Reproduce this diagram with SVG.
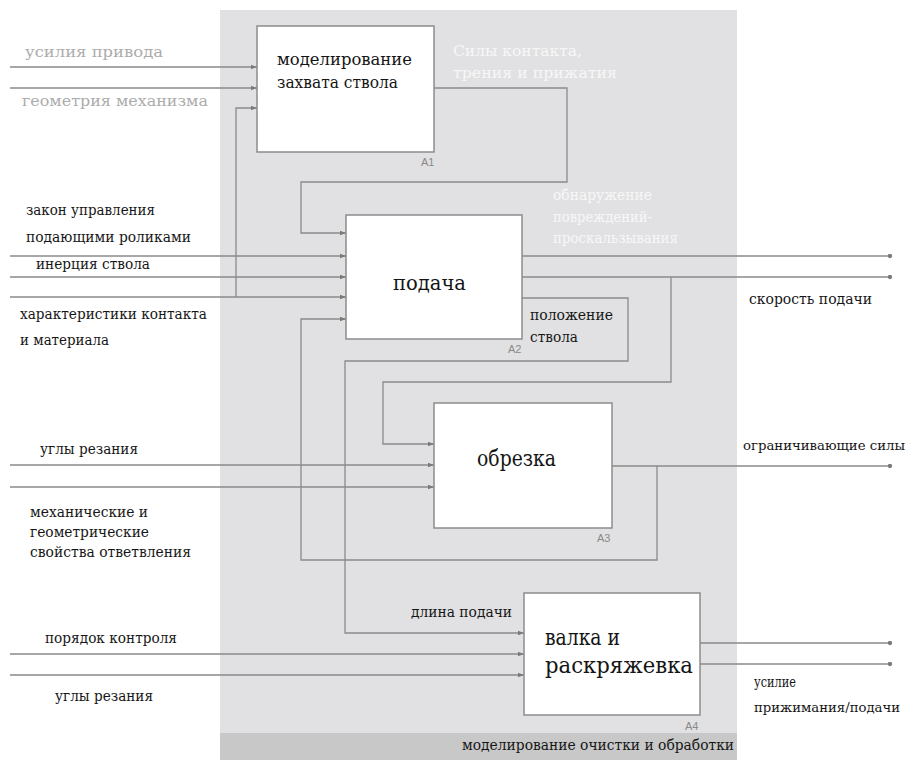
<svg xmlns="http://www.w3.org/2000/svg" width="915" height="760" viewBox="0 0 915 760">
<style>
.ln{fill:none;stroke:#8a8a8a;stroke-width:1.3}
.box{fill:#fff;stroke:#8c8c8c;stroke-width:1.5}
.t{font-family:"DejaVu Serif","Liberation Serif",serif;font-size:15px;fill:#161616}
.tg{font-family:"DejaVu Serif","Liberation Serif",serif;font-size:15px;fill:#acacac}
.tw{font-family:"DejaVu Serif","Liberation Serif",serif;font-size:15px;fill:#f7f7f7}
.big{font-family:"DejaVu Serif","Liberation Serif",serif;fill:#151515}
.id{font-family:"Liberation Sans",Arial,sans-serif;font-size:11px;fill:#8a8a8a}
</style>
<defs>
<marker id="arr" viewBox="0 0 6 6" refX="6" refY="3" markerWidth="6" markerHeight="6" markerUnits="userSpaceOnUse" orient="auto">
<path d="M0,0.8 L6,3 L0,5.2 Z" fill="#7a7a7a"/>
</marker>
<marker id="dot" viewBox="0 0 6 6" refX="3" refY="3" markerWidth="5" markerHeight="5" markerUnits="userSpaceOnUse">
<circle cx="3" cy="3" r="2.6" fill="#7a7a7a"/>
</marker>
</defs>
<rect x="0" y="0" width="915" height="760" fill="#ffffff"/>
<rect x="220" y="10" width="517" height="750" fill="#e1e1e3"/>
<rect x="220" y="733" width="517" height="27" fill="#c8c8c8"/>

<g id="connectors">
<path class="ln" d="M10,67 H257" marker-end="url(#arr)"/>
<path class="ln" d="M10,88 H257" marker-end="url(#arr)"/>
<path class="ln" d="M236,297 V108 H257" marker-end="url(#arr)"/>
<path class="ln" d="M434,88 H567 V182 H301 V233 H346" marker-end="url(#arr)"/>
<path class="ln" d="M10,256 H346" marker-end="url(#arr)"/>
<path class="ln" d="M10,277 H346" marker-end="url(#arr)"/>
<path class="ln" d="M10,297 H346" marker-end="url(#arr)"/>
<path class="ln" d="M657,466 V560 H301 V319 H346" marker-end="url(#arr)"/>
<path class="ln" d="M522,256 H890" marker-end="url(#dot)"/>
<path class="ln" d="M522,277 H890" marker-end="url(#dot)"/>
<path class="ln" d="M671,277 V382 H383 V444 H434" marker-end="url(#arr)"/>
<path class="ln" d="M522,298 H628 V361 H345 V633 H524" marker-end="url(#arr)"/>
<path class="ln" d="M10,465 H434" marker-end="url(#arr)"/>
<path class="ln" d="M10,487 H434" marker-end="url(#arr)"/>
<path class="ln" d="M612,466 H890" marker-end="url(#dot)"/>
<path class="ln" d="M10,654 H524" marker-end="url(#arr)"/>
<path class="ln" d="M10,675 H524" marker-end="url(#arr)"/>
<path class="ln" d="M700,643 H890" marker-end="url(#dot)"/>
<path class="ln" d="M700,664 H890" marker-end="url(#dot)"/>
</g>

<g id="A1">
<rect class="box" x="257" y="26" width="177" height="126"/>
<text class="big" font-size="17" x="277" y="65" textLength="135" lengthAdjust="spacingAndGlyphs">моделирование</text>
<text class="big" font-size="17" x="277" y="88" textLength="121" lengthAdjust="spacingAndGlyphs">захвата ствола</text>
<text class="id" x="421" y="166">A1</text>
</g>
<g id="A2">
<rect class="box" x="346" y="215" width="176" height="124"/>
<text class="big" font-size="21" x="393" y="290" textLength="73" lengthAdjust="spacingAndGlyphs">подача</text>
<text class="id" x="508" y="353">A2</text>
</g>
<g id="A3">
<rect class="box" x="434" y="403" width="178" height="125"/>
<text class="big" font-size="22" x="477" y="466" textLength="79" lengthAdjust="spacingAndGlyphs">обрезка</text>
<text class="id" x="597" y="542">A3</text>
</g>
<g id="A4">
<rect class="box" x="524" y="593" width="176" height="122"/>
<text class="big" font-size="23" x="545" y="645" textLength="75" lengthAdjust="spacingAndGlyphs">валка и</text>
<text class="big" font-size="23" x="545" y="673" textLength="148" lengthAdjust="spacingAndGlyphs">раскряжевка</text>
<text class="id" x="685" y="730">A4</text>
</g>

<g id="labels">
<text class="tg" x="25" y="57" textLength="138" lengthAdjust="spacingAndGlyphs">усилия привода</text>
<text class="tg" x="22" y="106" textLength="186" lengthAdjust="spacingAndGlyphs">геометрия механизма</text>
<text class="tw" x="453" y="56" textLength="129" lengthAdjust="spacingAndGlyphs">Силы контакта,</text>
<text class="tw" x="453" y="78" textLength="164" lengthAdjust="spacingAndGlyphs">трения и прижатия</text>
<text class="tw" style="font-size:14px" x="553" y="200" textLength="99" lengthAdjust="spacingAndGlyphs">обнаружение</text>
<text class="tw" style="font-size:14px" x="553" y="222" textLength="99" lengthAdjust="spacingAndGlyphs">повреждений-</text>
<text class="tw" style="font-size:14px" x="553" y="243" textLength="125" lengthAdjust="spacingAndGlyphs">проскальзывания</text>
<text class="t" x="26" y="215" textLength="129" lengthAdjust="spacingAndGlyphs">закон управления</text>
<text class="t" x="26" y="242" textLength="165" lengthAdjust="spacingAndGlyphs">подающими роликами</text>
<text class="t" x="36" y="269" textLength="114" lengthAdjust="spacingAndGlyphs">инерция ствола</text>
<text class="t" x="20" y="319" textLength="187" lengthAdjust="spacingAndGlyphs">характеристики контакта</text>
<text class="t" x="20" y="345" textLength="89" lengthAdjust="spacingAndGlyphs">и материала</text>
<text class="t" x="530" y="320" textLength="83" lengthAdjust="spacingAndGlyphs">положение</text>
<text class="t" x="530" y="342" textLength="48" lengthAdjust="spacingAndGlyphs">ствола</text>
<text class="t" x="749" y="304" textLength="123" lengthAdjust="spacingAndGlyphs">скорость подачи</text>
<text class="t" x="40" y="454" textLength="98" lengthAdjust="spacingAndGlyphs">углы резания</text>
<text class="t" x="30" y="517" textLength="118" lengthAdjust="spacingAndGlyphs">механические и</text>
<text class="t" x="30" y="537" textLength="119" lengthAdjust="spacingAndGlyphs">геометрические</text>
<text class="t" x="30" y="557" textLength="161" lengthAdjust="spacingAndGlyphs">свойства ответвления</text>
<text class="t" style="font-size:13px" x="743" y="450" textLength="162" lengthAdjust="spacingAndGlyphs">ограничивающие силы</text>
<text class="t" x="45" y="643" textLength="132" lengthAdjust="spacingAndGlyphs">порядок контроля</text>
<text class="t" x="55" y="701" textLength="98" lengthAdjust="spacingAndGlyphs">углы резания</text>
<text class="t" x="411" y="617" textLength="101" lengthAdjust="spacingAndGlyphs">длина подачи</text>
<text class="t" x="754" y="687" textLength="42" lengthAdjust="spacingAndGlyphs">усилие</text>
<text class="t" style="font-size:13px" x="754" y="712" textLength="146" lengthAdjust="spacingAndGlyphs">прижимания/подачи</text>
<text class="t" x="462" y="750" textLength="272" lengthAdjust="spacingAndGlyphs">моделирование очистки и обработки</text>
</g>
</svg>
